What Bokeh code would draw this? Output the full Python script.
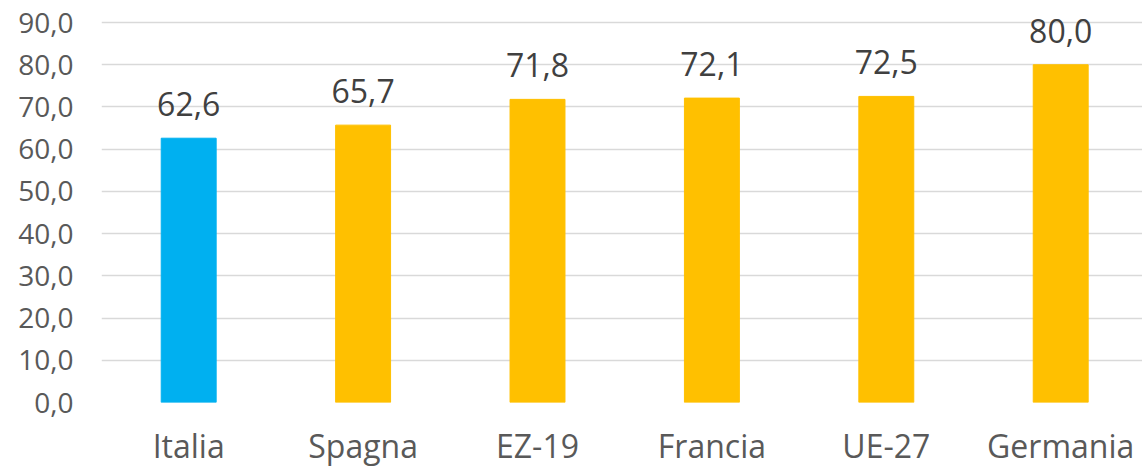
from bokeh.plotting import figure
from bokeh.models import ColumnDataSource, FixedTicker, Range1d
from bokeh.core.properties import value
from bokeh.embed import file_html
from bokeh.resources import INLINE

categories = ["Italia", "Spagna", "EZ-19", "Francia", "UE-27", "Germania"]
values = [62.6, 65.7, 71.8, 72.1, 72.5, 80.0]
y_ticks = [0, 10, 20, 30, 40, 50, 60, 70, 80, 90]
highlight = "Italia"

BLUE = "#00B0F0"
GOLD = "#FFC000"
FONT = "Open Sans"

def fmt(v):
    return f"{v:.1f}".replace(".", ",")

xs = list(range(len(categories)))
src = ColumnDataSource(dict(
    x=xs,
    top=values,
    color=[BLUE if c == highlight else GOLD for c in categories],
    label=[fmt(v) for v in values],
))

p = figure(width=1142, height=469, output_backend="svg", toolbar_location=None,
           x_range=Range1d(-0.5, 5.469), y_range=Range1d(0, 95.22),
           min_border_left=101, min_border_right=0, min_border_top=0, min_border_bottom=60)
p.outline_line_color = None
p.background_fill_color = "white"
p.border_fill_color = "white"

p.vbar(x="x", top="top", bottom=0, width=0.315, color="color", source=src)
p.text(x="x", y="top", text="label", source=src, text_align="center",
       text_baseline="alphabetic", y_offset=-34, text_font=value(FONT),
       text_font_size="32px", text_color="#404040")

p.xgrid.grid_line_color = None
p.ygrid.ticker = FixedTicker(ticks=y_ticks)
p.ygrid.grid_line_color = "#D9D9D9"
p.ygrid.grid_line_width = 1.5

p.yaxis.ticker = FixedTicker(ticks=y_ticks)
p.yaxis.major_label_overrides = {t: fmt(t) for t in y_ticks}
p.yaxis.axis_line_color = None
p.yaxis.major_tick_line_color = None
p.yaxis.minor_tick_line_color = None
p.yaxis.major_label_text_font = FONT
p.yaxis.major_label_text_font_size = "28px"
p.yaxis.major_label_text_color = "#595959"
p.yaxis.major_label_standoff = 22

p.xaxis.ticker = FixedTicker(ticks=xs)
p.xaxis.major_label_overrides = {i: c for i, c in zip(xs, categories)}
p.xaxis.axis_line_color = None
p.xaxis.major_tick_line_color = None
p.xaxis.minor_tick_line_color = None
p.xaxis.major_label_text_font = FONT
p.xaxis.major_label_text_font_size = "32px"
p.xaxis.major_label_text_color = "#595959"
p.xaxis.major_label_standoff = 15

open("out.html", "w").write(file_html(p, INLINE))
